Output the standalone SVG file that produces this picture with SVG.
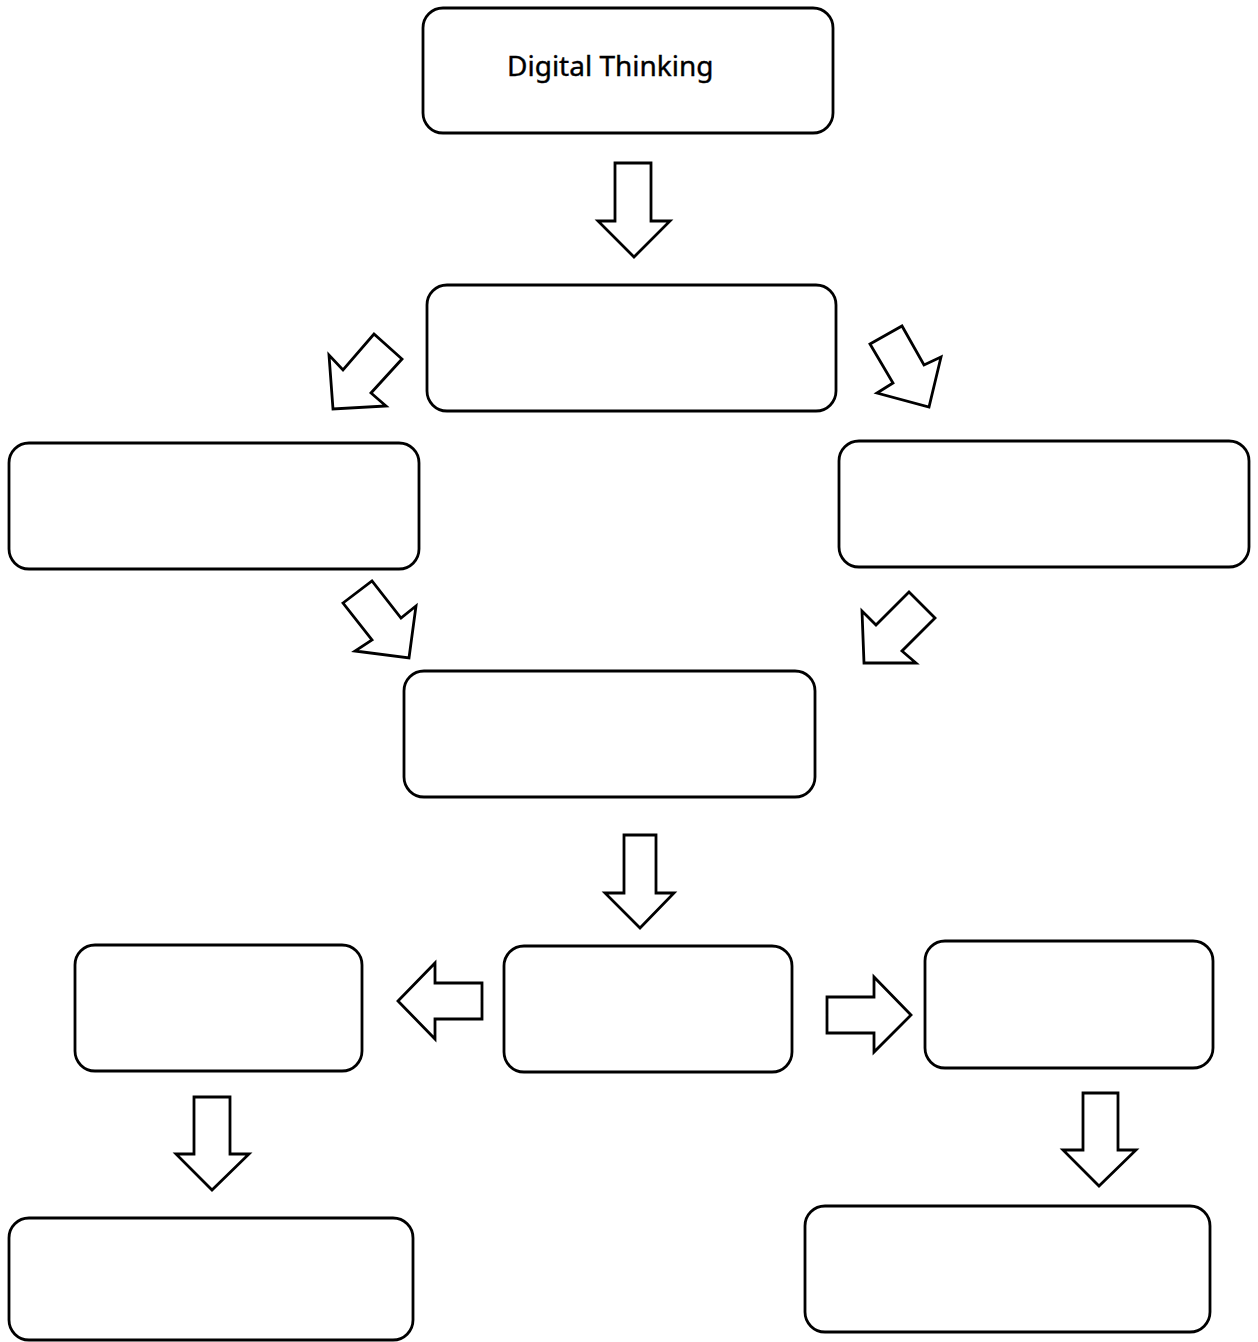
<svg xmlns="http://www.w3.org/2000/svg" width="1258" height="1342" viewBox="0 0 1258 1342">
<style>
.box{fill:#fff;stroke:#000;stroke-width:2.8}
.arr{fill:#fff;stroke:#000;stroke-width:2.8;stroke-linejoin:miter}
.lbl{font-family:"Noto Sans","DejaVu Sans",sans-serif;font-size:28px;fill:#000;stroke:#000;stroke-width:0.4}
</style>
<rect width="1258" height="1342" fill="#fff"/>
<g id="connectors">
<polygon class="arr" points="615,163 651,163 651,221 670,221 634,257 598,221 615,221"/>
<polygon class="arr" points="333,409 329,355 343,370 374,334 402,359 371,393 386,406"/>
<polygon class="arr" points="870,344 902,326 924,365 941,357 929,407 877,393 893,383"/>
<polygon class="arr" points="343,603 372,581 401,618 416,606 409,658 355,651 372,640"/>
<polygon class="arr" points="864,663 862,611 876,625 909,592 935,618 902,651 916,663"/>
<polygon class="arr" points="624,835 656,835 656,893 674,893 640,928 605,893 624,893"/>
<polygon class="arr" points="482,983 435,983 435,963 398,1001 435,1039 435,1019 482,1019"/>
<polygon class="arr" points="827,997 874,997 874,977 911,1015 874,1052 874,1033 827,1033"/>
<polygon class="arr" points="194,1097 230,1097 230,1154 249,1154 212,1190 176,1154 194,1154"/>
<polygon class="arr" points="1083,1093 1118,1093 1118,1150 1136,1150 1099,1186 1063,1150 1083,1150"/>
</g>
<g id="n1"><rect class="box" x="423" y="8" width="410" height="125" rx="20"/><text class="lbl" x="507" y="76">Digital Thinking</text></g>
<g id="n2"><rect class="box" x="427" y="285" width="409" height="126" rx="20"/></g>
<g id="n3"><rect class="box" x="9" y="443" width="410" height="126" rx="20"/></g>
<g id="n4"><rect class="box" x="839" y="441" width="410" height="126" rx="20"/></g>
<g id="n5"><rect class="box" x="404" y="671" width="411" height="126" rx="20"/></g>
<g id="n6"><rect class="box" x="504" y="946" width="288" height="126" rx="20"/></g>
<g id="n7"><rect class="box" x="75" y="945" width="287" height="126" rx="20"/></g>
<g id="n8"><rect class="box" x="925" y="941" width="288" height="127" rx="20"/></g>
<g id="n9"><rect class="box" x="9" y="1218" width="404" height="122" rx="20"/></g>
<g id="n10"><rect class="box" x="805" y="1206" width="405" height="126" rx="20"/></g>
</svg>
